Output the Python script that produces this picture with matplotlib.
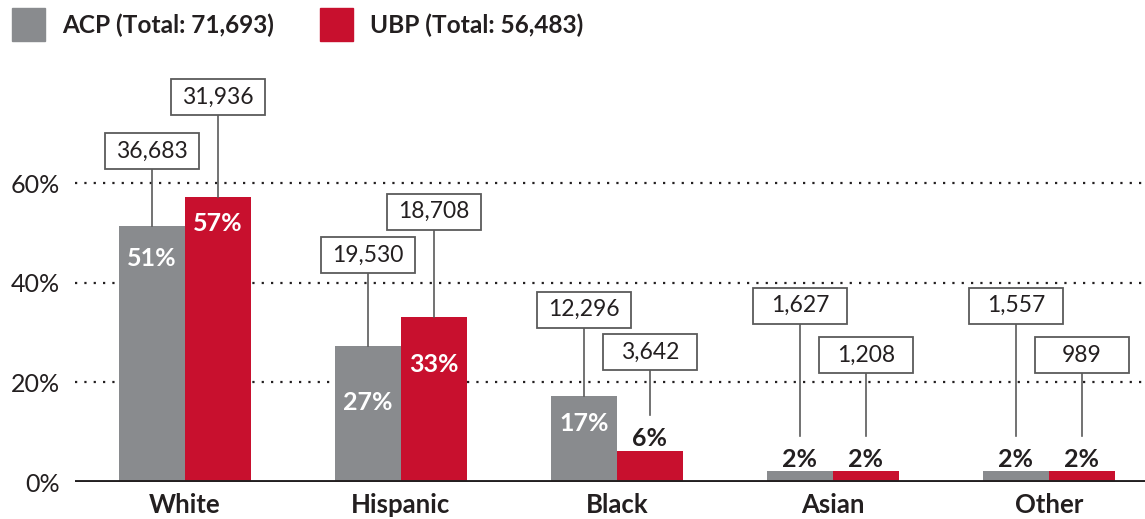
import matplotlib
matplotlib.use("Agg")
import matplotlib.pyplot as plt
from matplotlib.patches import Rectangle
import numpy as np

plt.rcParams["font.family"] = ["Lato", "DejaVu Sans"]

# --- Data ---
categories = ["White", "Hispanic", "Black", "Asian", "Other"]
acp_counts = ["36,683", "19,530", "12,296", "1,627", "1,557"]
ubp_counts = ["31,936", "18,708", "3,642", "1,208", "989"]
acp_pct = [51.5, 27.3, 17.3, 2.3, 2.3]
ubp_pct = [57.2, 33.2, 6.3, 2.3, 2.3]
acp_labels = ["51%", "27%", "17%", "2%", "2%"]
ubp_labels = ["57%", "33%", "6%", "2%", "2%"]
acp_name = "ACP (Total: 71,693)"
ubp_name = "UBP (Total: 56,483)"
yticks = [0, 20, 40, 60]

# --- Layout (label placement, in % units) ---
acp_box_y = [66.5, 45.6, 34.6, 35.4, 35.4]
ubp_box_y = [77.3, 54.3, 26.1, 25.5, 25.5]
acp_lab_y = [45.0, 16.0, 11.7, 4.6, 4.6]
ubp_lab_y = [52.0, 23.7, 8.8, 4.6, 4.6]
acp_inside = [True, True, True, False, False]
ubp_inside = [True, True, False, False, False]

gray = "#898b8e"
red = "#c8102e"
dark = "#231f20"
edge = "#5a5a5a"

fig = plt.figure(figsize=(11.45, 5.19), dpi=100)
ax = fig.add_axes([75 / 1145, 37 / 519, 1070 / 1145, 423 / 519])
ax.set_xlim(-0.509, 4.445)
ax.set_ylim(0, 85)

x = np.arange(len(categories))
w = 0.3056
box_w, box_h = 0.435, 7.2

for yv in yticks[1:]:
    ax.axhline(yv, color=dark, lw=1.6, ls=(0, (1, 3.2)), zorder=1)
ax.axhline(0, color=dark, lw=2.8, zorder=4)

ax.bar(x - w / 2, acp_pct, w, color=gray, zorder=2)
ax.bar(x + w / 2, ubp_pct, w, color=red, zorder=2)

def annotate(xc, top, count, box_y, lab, lab_y, inside):
    end = top if inside else lab_y + 4.6
    ax.plot([xc, xc], [box_y - box_h / 2, end], color=edge, lw=1.2, zorder=3)
    ax.add_patch(Rectangle((xc - box_w / 2, box_y - box_h / 2), box_w, box_h,
                           facecolor="white", edgecolor=edge, lw=1.3, zorder=3))
    ax.text(xc, box_y, count, ha="center", va="center", fontsize=16.5,
            color=dark, zorder=5)
    ax.text(xc, lab_y, lab, ha="center", va="center", fontsize=18,
            fontweight="bold", color="white" if inside else dark, zorder=5)

for i in range(len(categories)):
    annotate(x[i] - w / 2, acp_pct[i], acp_counts[i], acp_box_y[i],
             acp_labels[i], acp_lab_y[i], acp_inside[i])
    annotate(x[i] + w / 2, ubp_pct[i], ubp_counts[i], ubp_box_y[i],
             ubp_labels[i], ubp_lab_y[i], ubp_inside[i])

ax.set_xticks(x)
ax.set_xticklabels(categories, fontsize=18.5, fontweight="bold", color=dark)
ax.set_yticks(yticks)
ax.set_yticklabels([f"{v}%" for v in yticks], fontsize=18, color=dark)
ax.tick_params(length=0)
ax.tick_params(axis="x", pad=8)
ax.tick_params(axis="y", pad=11)
for s in ax.spines.values():
    s.set_visible(False)

# legend
fig.patches.append(Rectangle((12 / 1145, 1 - 41 / 519), 33 / 1145, 33 / 519,
                             transform=fig.transFigure, color=gray))
fig.patches.append(Rectangle((320 / 1145, 1 - 41 / 519), 33 / 1145, 33 / 519,
                             transform=fig.transFigure, color=red))
fig.text(62 / 1145, 1 - 25 / 519, acp_name, fontsize=17.6, fontweight="bold",
         color=dark, va="center", ha="left")
fig.text(370 / 1145, 1 - 25 / 519, ubp_name, fontsize=17.6, fontweight="bold",
         color=dark, va="center", ha="left")

fig.savefig("out.png", dpi=100)
